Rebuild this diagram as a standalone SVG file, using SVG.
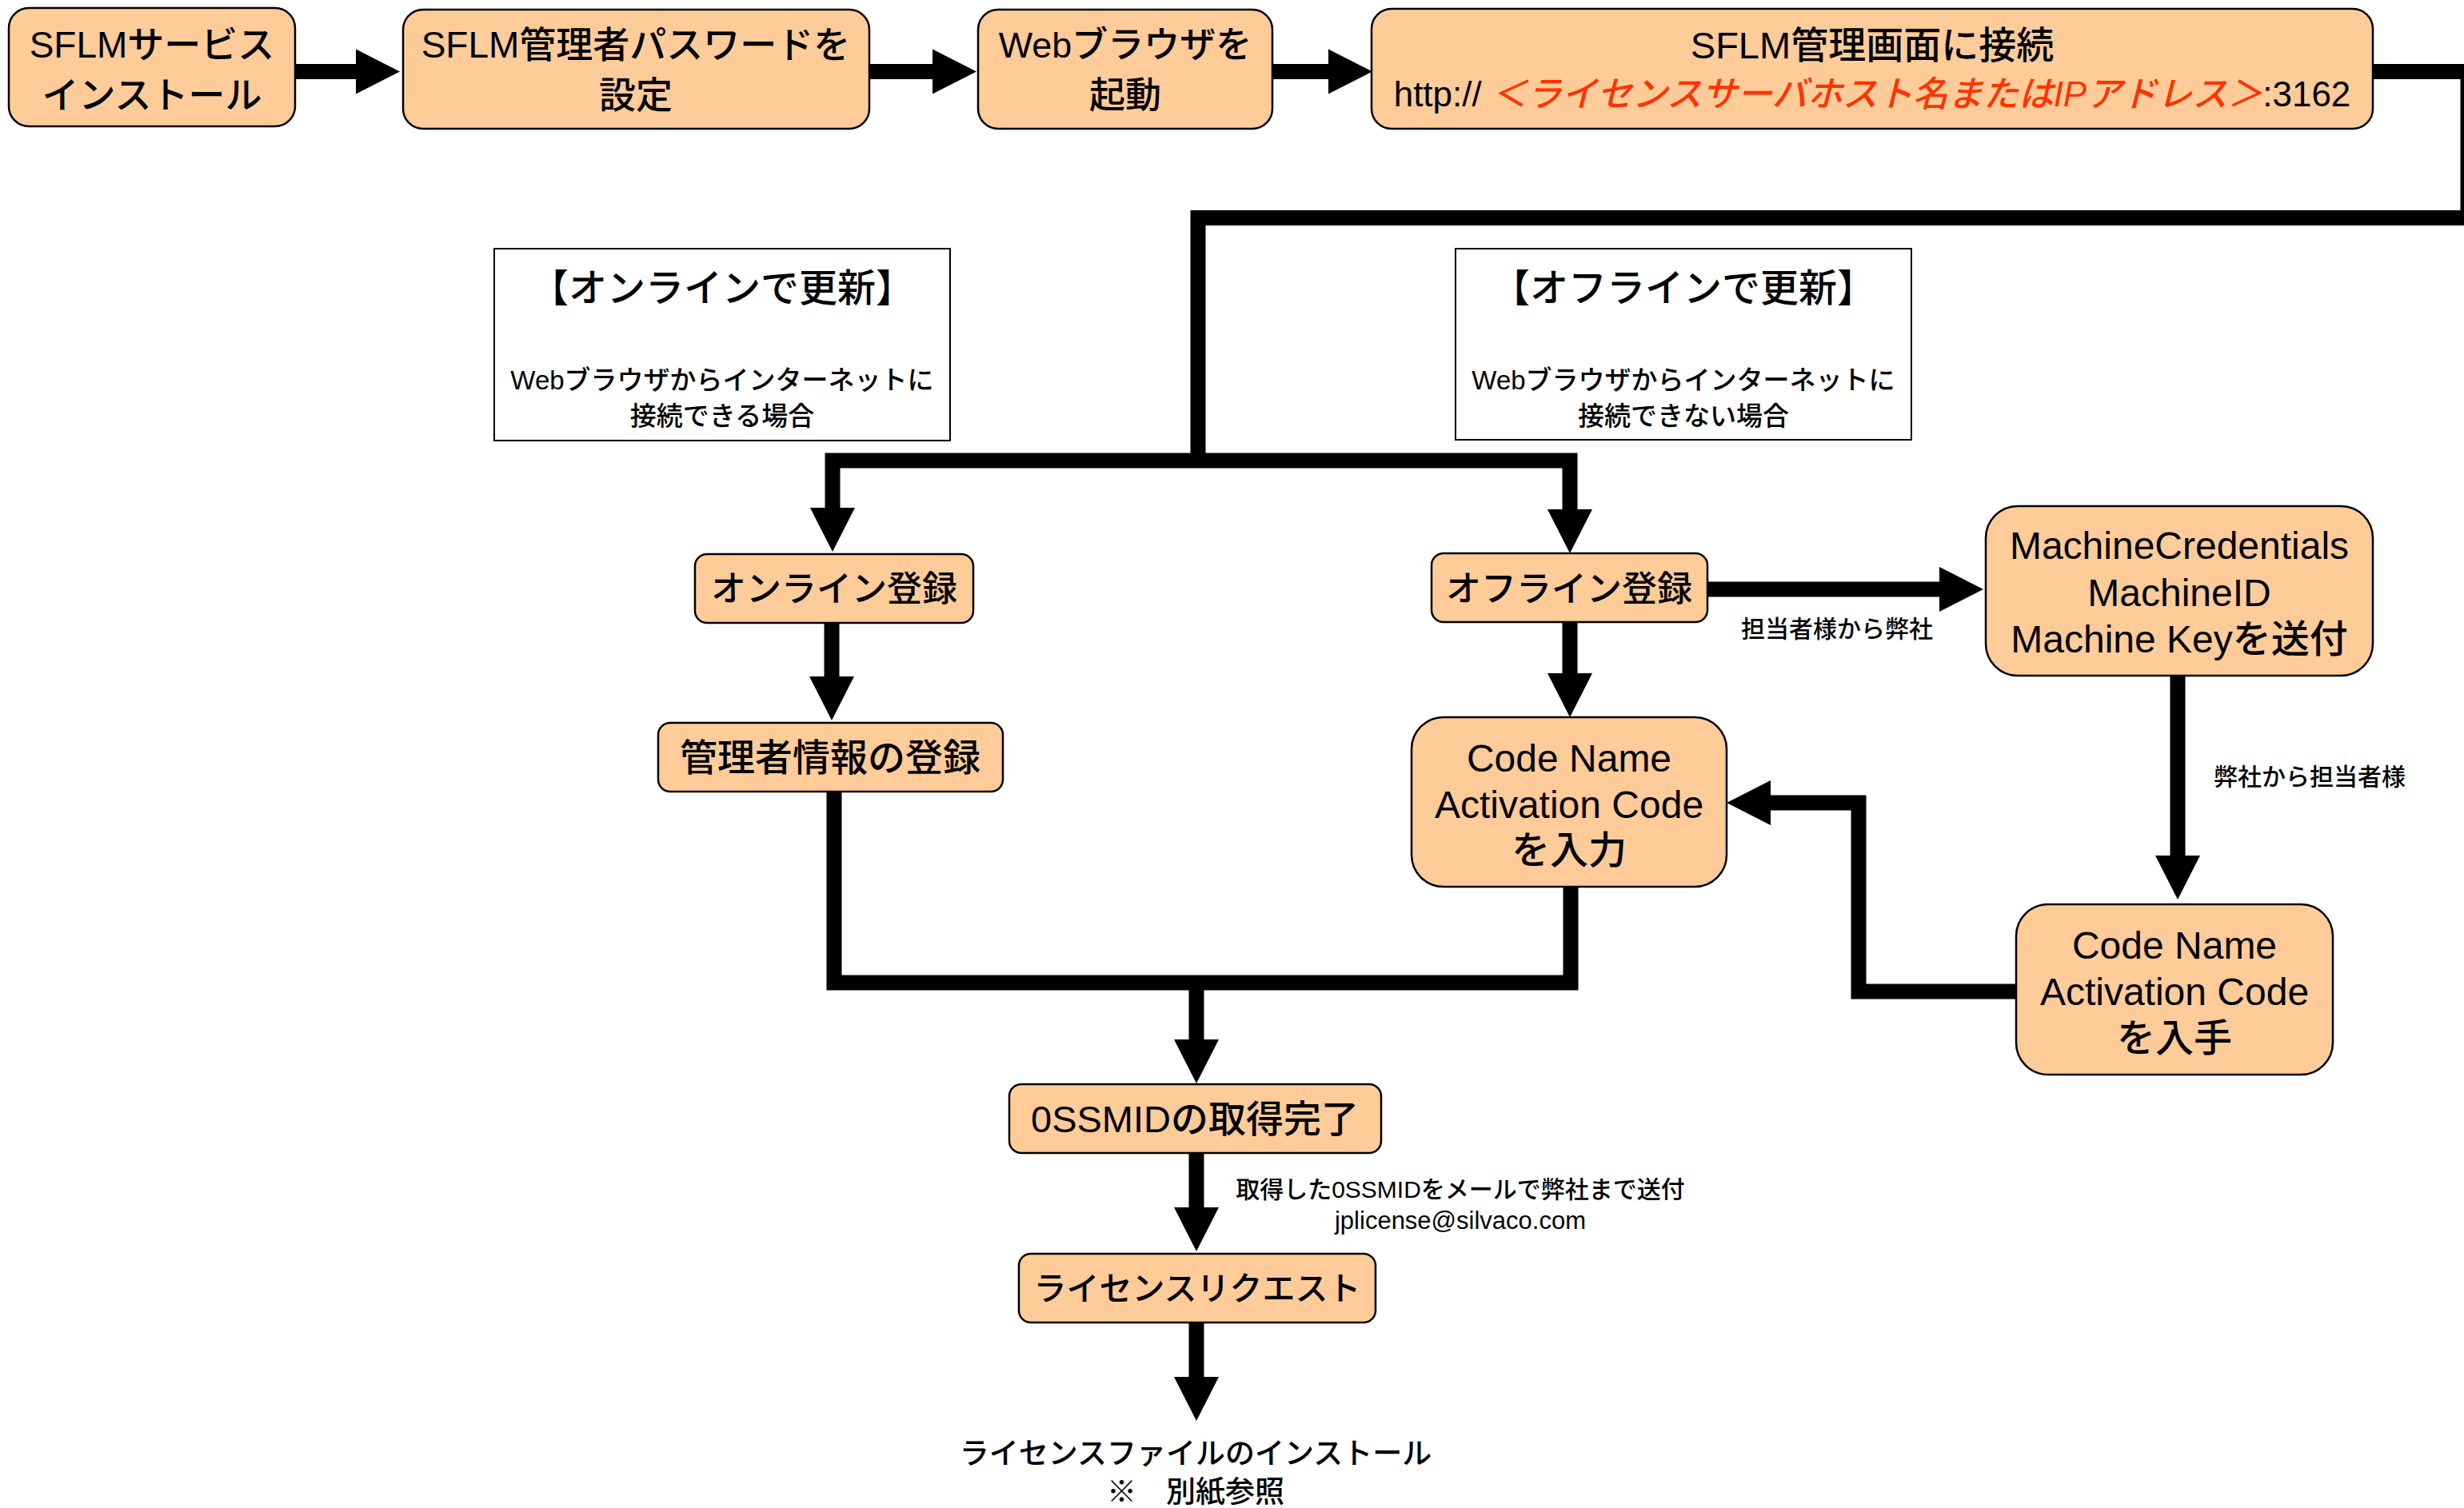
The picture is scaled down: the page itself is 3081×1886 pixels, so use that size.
<svg xmlns="http://www.w3.org/2000/svg" width="3081" height="1886" viewBox="0 0 3081 1886">
<defs>
<style>
text{font-family:"Liberation Sans","Noto Sans CJK JP",sans-serif;font-weight:500;fill:#000;text-anchor:middle}
.node{fill:#FFCC99;stroke:#000;stroke-width:2.5}
.info{fill:#FFFFFF;stroke:#000;stroke-width:2}
.conn{fill:none;stroke:#000;stroke-width:19;stroke-linejoin:miter;stroke-linecap:butt}
.t46{font-size:46px}
.t45{font-size:45px}
.t44{font-size:44px}
.t47{font-size:47px}
.t48{font-size:48px}
.t41{font-size:41px}
.t33{font-size:33px}
.t31{font-size:31px}
.t30{font-size:30px}
.t37{font-size:37px}
.red{fill:#FF3300;font-style:italic}
</style>
<marker id="ah" markerUnits="userSpaceOnUse" markerWidth="56" markerHeight="58" viewBox="0 -29 56 58" refX="0" refY="0" orient="auto" overflow="visible">
<path d="M0,-28 L55,0 L0,28 Z" fill="#000"/>
</marker>
</defs>
<rect width="3081" height="1886" fill="#FFFFFF"/>

<g id="connectors">
<path class="conn" d="M369,89.5 H445" marker-end="url(#ah)"/>
<path class="conn" d="M1087,89.5 H1166" marker-end="url(#ah)"/>
<path class="conn" d="M1591,89.5 H1661" marker-end="url(#ah)"/>
<path class="conn" d="M2967,89.5 H3086 V272.5 H1498 V576"/>
<path class="conn" d="M1498,576 H1041 V635" marker-end="url(#ah)"/>
<path class="conn" d="M1498,576 H1963 V637" marker-end="url(#ah)"/>
<path class="conn" d="M1040,779 V846" marker-end="url(#ah)"/>
<path class="conn" d="M1963,778 V842" marker-end="url(#ah)"/>
<path class="conn" d="M1043,990 V1229 H1964 V1109"/>
<path class="conn" d="M1496,1229 V1300" marker-end="url(#ah)"/>
<path class="conn" d="M1496,1442 V1510" marker-end="url(#ah)"/>
<path class="conn" d="M1496,1654 V1722" marker-end="url(#ah)"/>
<path class="conn" d="M2135,737 H2425" marker-end="url(#ah)"/>
<path class="conn" d="M2723,845 V1070" marker-end="url(#ah)"/>
<path class="conn" d="M2521,1240 H2324 V1004 H2214" marker-end="url(#ah)"/>
</g>

<g id="n-sflm-install">
<rect class="node" x="11" y="10" width="358" height="148" rx="25"/>
<text class="t46" x="190" y="72">SFLMサービス</text>
<text class="t46" x="190" y="135">インストール</text>
</g>

<g id="n-set-password">
<rect class="node" x="504" y="12" width="583" height="149" rx="25"/>
<text class="t46" x="795" y="72">SFLM管理者パスワードを</text>
<text class="t46" x="795" y="135">設定</text>
</g>

<g id="n-browser">
<rect class="node" x="1223" y="12" width="368" height="149" rx="25"/>
<text class="t45" x="1407" y="72">Webブラウザを</text>
<text class="t45" x="1407" y="135">起動</text>
</g>

<g id="n-connect">
<rect class="node" x="1715" y="11" width="1252" height="150" rx="25"/>
<text class="t47" x="2341" y="73">SFLM管理画面に接続</text>
<text class="t44" x="2341" y="133">http:// <tspan class="red">＜ライセンスサーバホスト名またはIPアドレス＞</tspan>:3162</text>
</g>

<g id="info-online">
<rect class="info" x="618" y="311" width="570" height="240"/>
<text class="t48" x="903" y="377">【オンラインで更新】</text>
<text class="t33" x="903" y="487">Webブラウザからインターネットに</text>
<text class="t33" x="903" y="532">接続できる場合</text>
</g>

<g id="info-offline">
<rect class="info" x="1820" y="311" width="570" height="239"/>
<text class="t48" x="2105" y="377">【オフラインで更新】</text>
<text class="t33" x="2105" y="487">Webブラウザからインターネットに</text>
<text class="t33" x="2105" y="532">接続できない場合</text>
</g>

<g id="n-online-reg">
<rect class="node" x="869" y="693" width="348" height="86" rx="15"/>
<text class="t44" x="1043" y="752">オンライン登録</text>
</g>

<g id="n-offline-reg">
<rect class="node" x="1790" y="692" width="345" height="86" rx="15"/>
<text class="t44" x="1962" y="752">オフライン登録</text>
</g>

<g id="n-admin-info">
<rect class="node" x="823" y="904" width="431" height="86" rx="15"/>
<text class="t47" x="1038" y="964">管理者情報の登録</text>
</g>

<g id="n-code-input">
<rect class="node" x="1765" y="897" width="394" height="212" rx="40"/>
<text class="t48" x="1962" y="965">Code Name</text>
<text class="t48" x="1962" y="1023">Activation Code</text>
<text class="t48" x="1962" y="1080">を入力</text>
</g>

<g id="n-machine">
<rect class="node" x="2483" y="633" width="484" height="212" rx="40"/>
<text class="t48" x="2725" y="699">MachineCredentials</text>
<text class="t48" x="2725" y="758">MachineID</text>
<text class="t48" x="2725" y="816">Machine Keyを送付</text>
</g>

<g id="n-code-get">
<rect class="node" x="2521" y="1131" width="396" height="213" rx="40"/>
<text class="t48" x="2719" y="1199">Code Name</text>
<text class="t48" x="2719" y="1257">Activation Code</text>
<text class="t48" x="2719" y="1315">を入手</text>
</g>

<g id="n-ossmid">
<rect class="node" x="1262" y="1356" width="465" height="86" rx="15"/>
<text class="t47" x="1494" y="1416">0SSMIDの取得完了</text>
</g>

<g id="n-license-request">
<rect class="node" x="1274" y="1568" width="446" height="86" rx="15"/>
<text class="t41" x="1497" y="1626">ライセンスリクエスト</text>
</g>

<g id="labels">
<text class="t30" x="2297" y="797">担当者様から弊社</text>
<text class="t30" x="2888" y="982">弊社から担当者様</text>
<text class="t30" x="1826" y="1498">取得した0SSMIDをメールで弊社まで送付</text>
<text class="t31" x="1826" y="1537">jplicense@silvaco.com</text>
</g>

<g id="n-license-install">
<text class="t37" x="1495" y="1831">ライセンスファイルのインストール</text>
<text class="t37" x="1495" y="1879">※　別紙参照</text>
</g>
</svg>
